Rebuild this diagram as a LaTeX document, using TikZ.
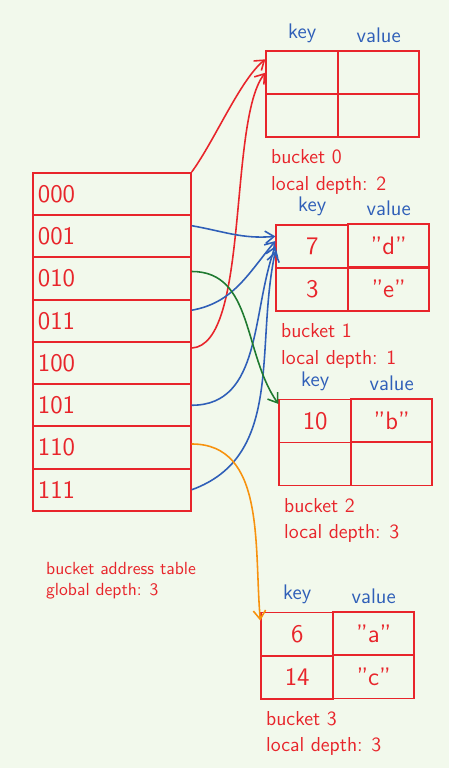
\documentclass[tikz,border=0pt]{standalone}
\usetikzlibrary{matrix,positioning,arrows.meta}
\definecolor{hred}{HTML}{E8252B}
\definecolor{hblue}{HTML}{2F5FB8}
\definecolor{hgreen}{HTML}{1F7A30}
\definecolor{horange}{HTML}{F7920E}
\definecolor{paper}{HTML}{F2F9EC}

\begin{document}
\begin{tikzpicture}[
    x=0.02cm, y=-0.02cm,
    font=\sffamily,
    slot/.style={
      draw=hred,
      line width=1pt,
      anchor=north west,
      minimum height=0.845cm,
      text width=2.96cm,
      inner xsep=0.1cm,
      inner ysep=0pt,
      align=left,
      font=\Large\sffamily,
      text=hred
    },
    cell/.style={
      draw=hred,
      line width=1pt,
      minimum height=0.86cm,
      inner sep=0pt,
      font=\Large\sffamily,
      text=hred
    },
    bucket/.style={
      matrix of nodes,
      nodes in empty cells,
      anchor=north west,
      inner sep=0pt,
      column sep=-1pt,
      row sep=-1pt,
      nodes={cell},
      column 1/.style={nodes={minimum width=1.44cm}},
      column 2/.style={nodes={minimum width=1.62cm}}
    },
    head/.style={text=hblue, font=\large\sffamily, above=1pt},
    caption/.style={text=hred, align=left, anchor=north west},
    link/.style={line width=0.9pt, -{Straight Barb[length=5pt,width=7pt]}}
  ]
  \useasboundingbox[fill=paper] (0,0) rectangle (449,768);

  % bucket address table
  \foreach \b [count=\i from 0] in {000,001,010,011,100,101,110,111}
    \node[slot] (s\b) at (32,{172+42.25*\i}) {\b};
  \node[caption] (tabcap) at (40,556) {bucket address table\\global depth: 3};

  % buckets
  \matrix (b0) [bucket] at (265,50) { & \\ & \\ };
  \matrix (b1) [bucket] at (275,223) { 7 & "d" \\ 3 & "e" \\ };
  \matrix (b2) [bucket] at (278,398) { 10 & "b" \\ & \\ };
  \matrix (b3) [bucket] at (260,611) { 6 & "a" \\ 14 & "c" \\ };

  \foreach \m in {b0,b1,b2,b3} {
    \node[head] at (\m-1-1.north) {key};
    \node[head] at (\m-1-2.north) {value};
  }

  \node[caption, font=\fontsize{11.5}{15}\sffamily] (cap0) at ([yshift=-3pt]b0.south west) {bucket 0\\local depth: 2};
  \node[caption, font=\fontsize{11.5}{15}\sffamily] (cap1) at ([yshift=-3pt]b1.south west) {bucket 1\\local depth: 1};
  \node[caption, font=\fontsize{11.5}{15}\sffamily] (cap2) at ([yshift=-3pt]b2.south west) {bucket 2\\local depth: 3};
  \node[caption, font=\fontsize{11.5}{15}\sffamily] (cap3) at ([yshift=-3pt]b3.south west) {bucket 3\\local depth: 3};

  % pointers
  \draw[link, hred] (s000.north east) .. controls (215,140) and (240,80) .. (b0-1-1.160);
  \draw[link, hred] ([yshift=-4pt]s100.north east) .. controls (250,345) and (228,120) .. (b0-1-1.west);
  \draw[link, hblue] ([yshift=6pt]s001.east) to[out=-10, in=185] (b1-1-1.165);
  \draw[link, hblue] ([yshift=6pt]s011.east) to[out=10, in=230] (b1-1-1.172);
  \draw[link, hblue] (s101.east) to[out=0, in=250] (b1-1-1.180);
  \draw[link, hblue] (s111.east) to[out=20, in=258] (b1-1-1.188);
  \draw[link, hgreen] ([yshift=4pt]s010.east) to[out=0, in=125] (b2-1-1.155);
  \draw[link, horange] ([yshift=2pt]s110.east) to[out=0, in=95] (b3-1-1.160);
\end{tikzpicture}
\end{document}
